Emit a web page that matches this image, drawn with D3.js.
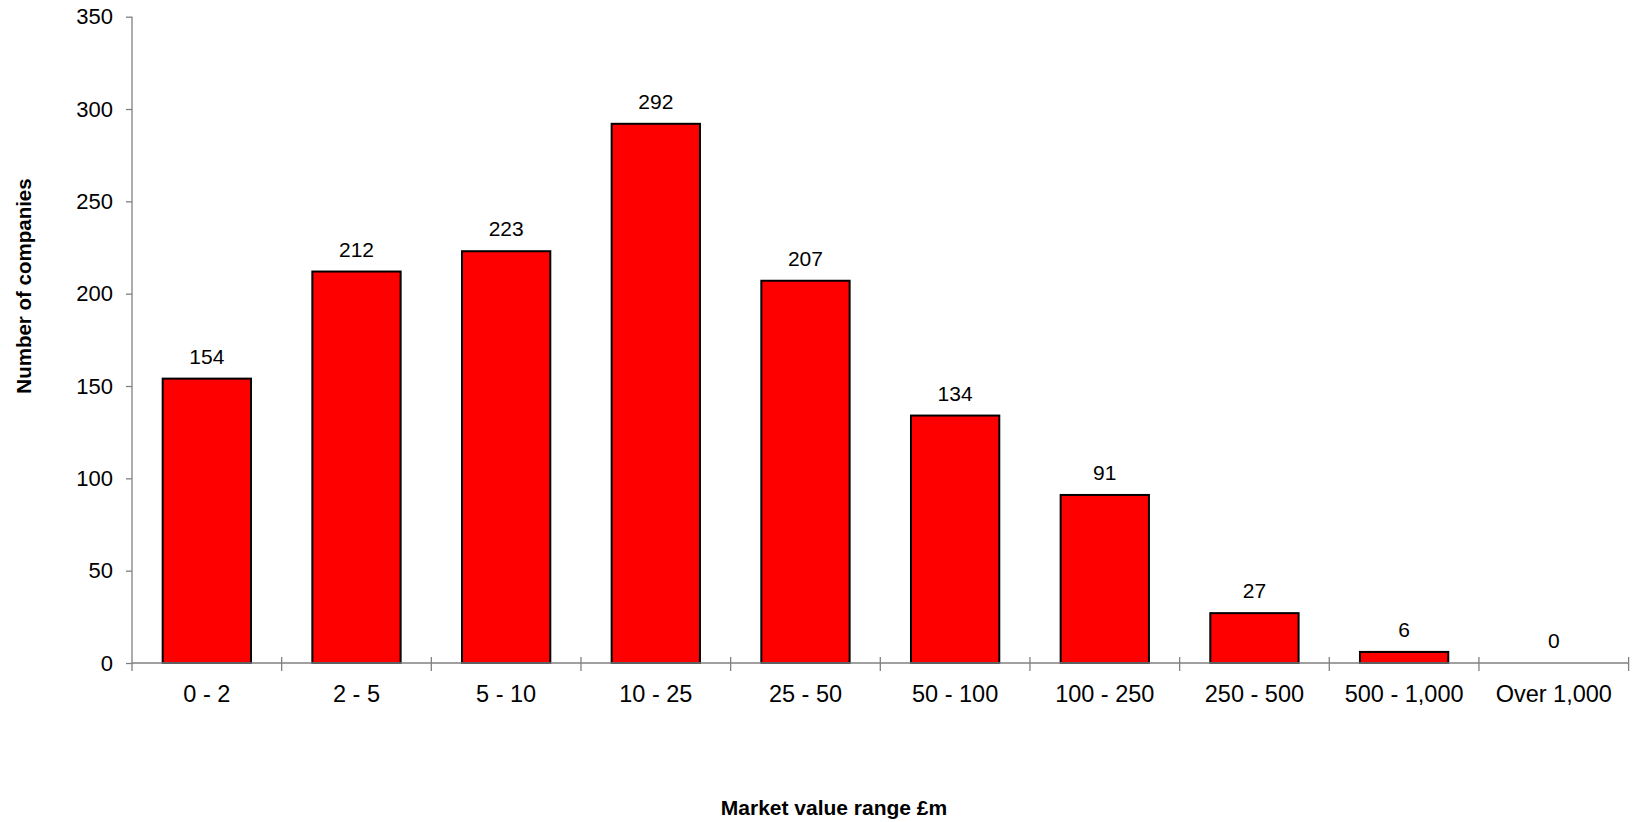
<!DOCTYPE html>
<html>
<head>
<meta charset="utf-8">
<script src="https://cdn.jsdelivr.net/npm/d3@7"></script>
<style>
  html, body { margin: 0; padding: 0; background: #fff; }
  svg { display: block; }
</style>
</head>
<body>
<div id="chart"></div>
<script>
// ---- data ------------------------------------------------------
const categories = ["0 - 2", "2 - 5", "5 - 10", "10 - 25", "25 - 50",
                    "50 - 100", "100 - 250", "250 - 500", "500 - 1,000", "Over 1,000"];
const companies  = [154, 212, 223, 292, 207, 134, 91, 27, 6, 0];
const yTicks     = [0, 50, 100, 150, 200, 250, 300, 350];

const data = categories.map((c, i) => ({ cat: c, value: companies[i] }));

// ---- layout ----------------------------------------------------
const W = 1637, H = 822;
const margin = { top: 16.7, right: 8.4, bottom: 159, left: 132 };
const FONT = "'Liberation Sans', Arial, sans-serif";
const AXIS = "#808080";

const x = d3.scaleBand()
  .domain(categories)
  .range([margin.left, W - margin.right])
  .paddingInner(0.41)
  .paddingOuter(0.205);

const y = d3.scaleLinear()
  .domain([0, 350])
  .range([H - margin.bottom, margin.top]);

const svg = d3.select("#chart").append("svg")
  .attr("width", W).attr("height", H)
  .attr("font-family", FONT);

// bars
svg.append("g").selectAll("rect")
  .data(data.filter(d => d.value > 0))
  .join("rect")
    .attr("x", d => x(d.cat))
    .attr("y", d => y(d.value))
    .attr("width", x.bandwidth())
    .attr("height", d => y(0) - y(d.value))
    .attr("fill", "#ff0000")
    .attr("stroke", "#000")
    .attr("stroke-width", 2);

// y axis
const yAxisG = svg.append("g")
  .attr("transform", `translate(${margin.left},0)`)
  .call(d3.axisLeft(y).tickValues(yTicks).tickSize(6).tickPadding(13));
yAxisG.select(".domain").attr("stroke", AXIS).attr("stroke-width", 1.3)
  .attr("d", `M0,${y(350)}V${y(0) + 8}`);
yAxisG.selectAll(".tick line").attr("stroke", AXIS).attr("stroke-width", 1.3);
yAxisG.selectAll("text").attr("font-size", 22).attr("fill", "#000")
  .attr("font-family", FONT);

// x axis: ticks between categories, crossing the baseline
const xAxisG = svg.append("g");
xAxisG.append("line")
  .attr("x1", margin.left).attr("x2", W - margin.right)
  .attr("y1", y(0)).attr("y2", y(0))
  .attr("stroke", AXIS).attr("stroke-width", 1.3);
const bounds = categories.map(c => x(c) - x.step() * x.paddingInner() / 2).slice(1)
  .concat([W - margin.right]);
xAxisG.selectAll("line.sep")
  .data(bounds)
  .join("line").attr("class", "sep")
    .attr("x1", d => d).attr("x2", d => d)
    .attr("y1", y(0) - 6).attr("y2", y(0) + 8)
    .attr("stroke", AXIS).attr("stroke-width", 1.3);
xAxisG.selectAll("text")
  .data(categories)
  .join("text")
    .attr("x", d => x(d) + x.bandwidth() / 2)
    .attr("y", y(0) + 39)
    .attr("text-anchor", "middle")
    .attr("font-size", 23.5)
    .text(d => d);

// value labels
svg.append("g").selectAll("text")
  .data(data)
  .join("text")
    .attr("x", d => x(d.cat) + x.bandwidth() / 2)
    .attr("y", d => y(d.value) - 15)
    .attr("text-anchor", "middle")
    .attr("font-size", 21)
    .text(d => d.value);

// axis titles
svg.append("text")
  .attr("x", 834).attr("y", 815)
  .attr("text-anchor", "middle")
  .attr("font-size", 21).attr("font-weight", "bold")
  .text("Market value range £m");

svg.append("text")
  .attr("transform", "translate(31,286) rotate(-90)")
  .attr("text-anchor", "middle")
  .attr("font-size", 20.5).attr("font-weight", "bold")
  .text("Number of companies");
</script>
</body>
</html>
